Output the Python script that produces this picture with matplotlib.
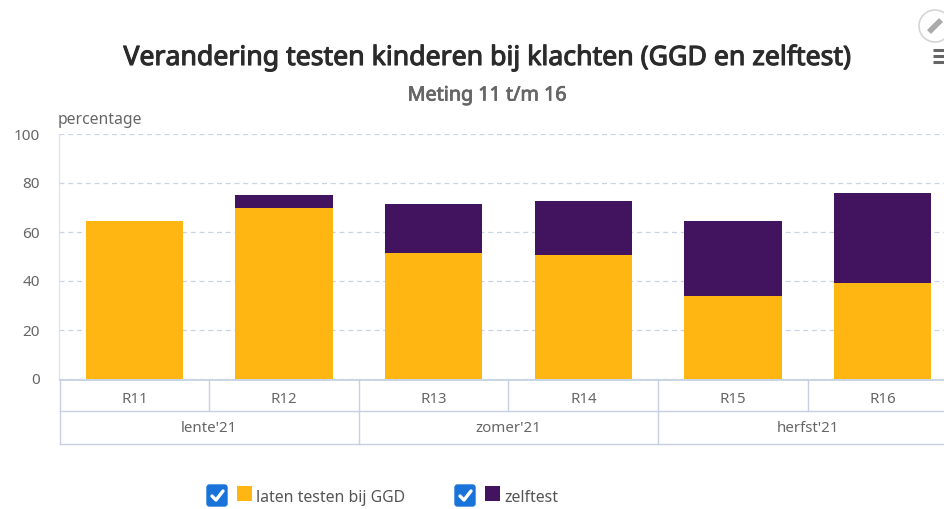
import matplotlib
matplotlib.use('Agg')
import matplotlib.pyplot as plt
import matplotlib.patheffects as pe
from matplotlib.patches import FancyBboxPatch, Rectangle, Circle
from matplotlib.transforms import blended_transform_factory

plt.rcParams['font.family'] = ['Noto Sans', 'DejaVu Sans']

rounds = ['R11', 'R12', 'R13', 'R14', 'R15', 'R16']
seasons = ["lente'21", "zomer'21", "herfst'21"]
season_spans = [(0, 2), (2, 4), (4, 6)]
ggd = [64.5, 70, 51.5, 50.5, 34, 39]
zelftest = [0, 5, 20, 22, 30.5, 37]
series_names = ['laten testen bij GGD', 'zelftest']
title = 'Verandering testen kinderen bij klachten (GGD en zelftest)'
subtitle = 'Meting 11 t/m 16'

ORANGE = '#FFB612'
PURPLE = '#42145F'
GRID = '#C9D4E3'
AXIS = '#C5D1E2'
TXT = '#666666'

W, H = 945, 509
fig = plt.figure(figsize=(W / 100, H / 100), dpi=100, facecolor='white')
L, R, T, B = 59.5, 957.5, 134, 379
ax = fig.add_axes([L / W, 1 - B / H, (R - L) / W, (B - T) / H])
ax.set_xlim(-0.5, 5.5)
ax.set_ylim(0, 100)

def fx(x): return x / W
def fy(y): return 1 - y / H

ax.bar(range(6), ggd, width=0.65, color=ORANGE, zorder=3)
ax.bar(range(6), zelftest, width=0.65, bottom=ggd, color=PURPLE, zorder=3)

ax.set_yticks([0, 20, 40, 60, 80, 100])
ax.tick_params(axis='y', length=0, labelsize=11, labelcolor=TXT, pad=14)
ax.set_xticks([])
ax.grid(axis='y', color=GRID, linestyle=(0, (4, 3)), linewidth=0.9, zorder=0)
for s in ['top', 'right', 'bottom']:
    ax.spines[s].set_visible(False)
ax.spines['left'].set_color('#DDE3EC')
ax.spines['left'].set_linewidth(0.9)

# Multi-level category axis
tr = blended_transform_factory(ax.transData, fig.transFigure)
y0, y1, y2 = fy(380), fy(411), fy(444)
def hline(a, b, y, lw=1.0):
    ax.plot([a, b], [y, y], transform=tr, color=AXIS, lw=lw, clip_on=False, zorder=4)
def vline(x, a, b):
    ax.plot([x, x], [a, b], transform=tr, color=AXIS, lw=1.0, clip_on=False, zorder=4)
hline(-0.5, 5.5, y0, 1.3)
hline(-0.5, 5.5, y1)
hline(-0.5, 5.5, y2)
for i, r in enumerate(rounds):
    ax.text(i, fy(399.5), r, transform=tr, ha='center', va='center', fontsize=10.8, color=TXT)
    vline(i - 0.5, y0, y1)
vline(5.5, y0, y2)
for name, (a, b) in zip(seasons, season_spans):
    ax.text((a + b) / 2 - 0.5, fy(429), name, transform=tr, ha='center', va='center', fontsize=10.8, color=TXT)
    vline(a - 0.5, y1, y2)

# Titles (the family ships one weight, so the heavier look comes from a thin stroke)
title_text = fig.text(fx(487), fy(58), title, ha='center', va='center', fontsize=19.2, color='#2B2B2B')
title_text.set_path_effects([pe.withStroke(linewidth=0.8, foreground='#2B2B2B')])
sub_text = fig.text(fx(487), fy(95.5), subtitle, ha='center', va='center', fontsize=14.2, color=TXT)
sub_text.set_path_effects([pe.withStroke(linewidth=0.6, foreground=TXT)])
fig.text(fx(58), fy(119.5), 'percentage', ha='left', va='center', fontsize=11.3, color=TXT)

# Pixel-space overlay for legend and icons
ov = fig.add_axes([0, 0, 1, 1], facecolor='none')
ov.set_xlim(0, W)
ov.set_ylim(H, 0)
ov.axis('off')

def legend_item(xbox, xswatch, xtext, colour, label):
    ov.add_patch(FancyBboxPatch((xbox + 2, 485), 20, 21, boxstyle='round,pad=0,rounding_size=2.5',
                                fc='#1A73D9', ec='#1A73D9', lw=1))
    ov.plot([xbox + 7, xbox + 11, xbox + 18], [496, 500, 491], color='white', lw=2.4, solid_capstyle='round')
    ov.add_patch(Rectangle((xswatch, 486), 15, 15, fc=colour, ec='none'))
    ov.text(xtext, 497.5, label, ha='left', va='center', fontsize=11.4, color='#555555')

legend_item(205, 237, 256, ORANGE, series_names[0])
legend_item(453, 485, 504, PURPLE, series_names[1])

# Edit and menu icons at the top right
ov.add_patch(Circle((935, 26), 16, fc='white', ec='#D5D5D5', lw=1.2))
ov.plot([929, 941], [32, 20], color='#AAAAAA', lw=4, solid_capstyle='butt')
for y in [50, 56, 62]:
    ov.plot([933, 945], [y, y], color='#666666', lw=2.2, solid_capstyle='butt')

fig.savefig('out.png', dpi=100, facecolor='white')
